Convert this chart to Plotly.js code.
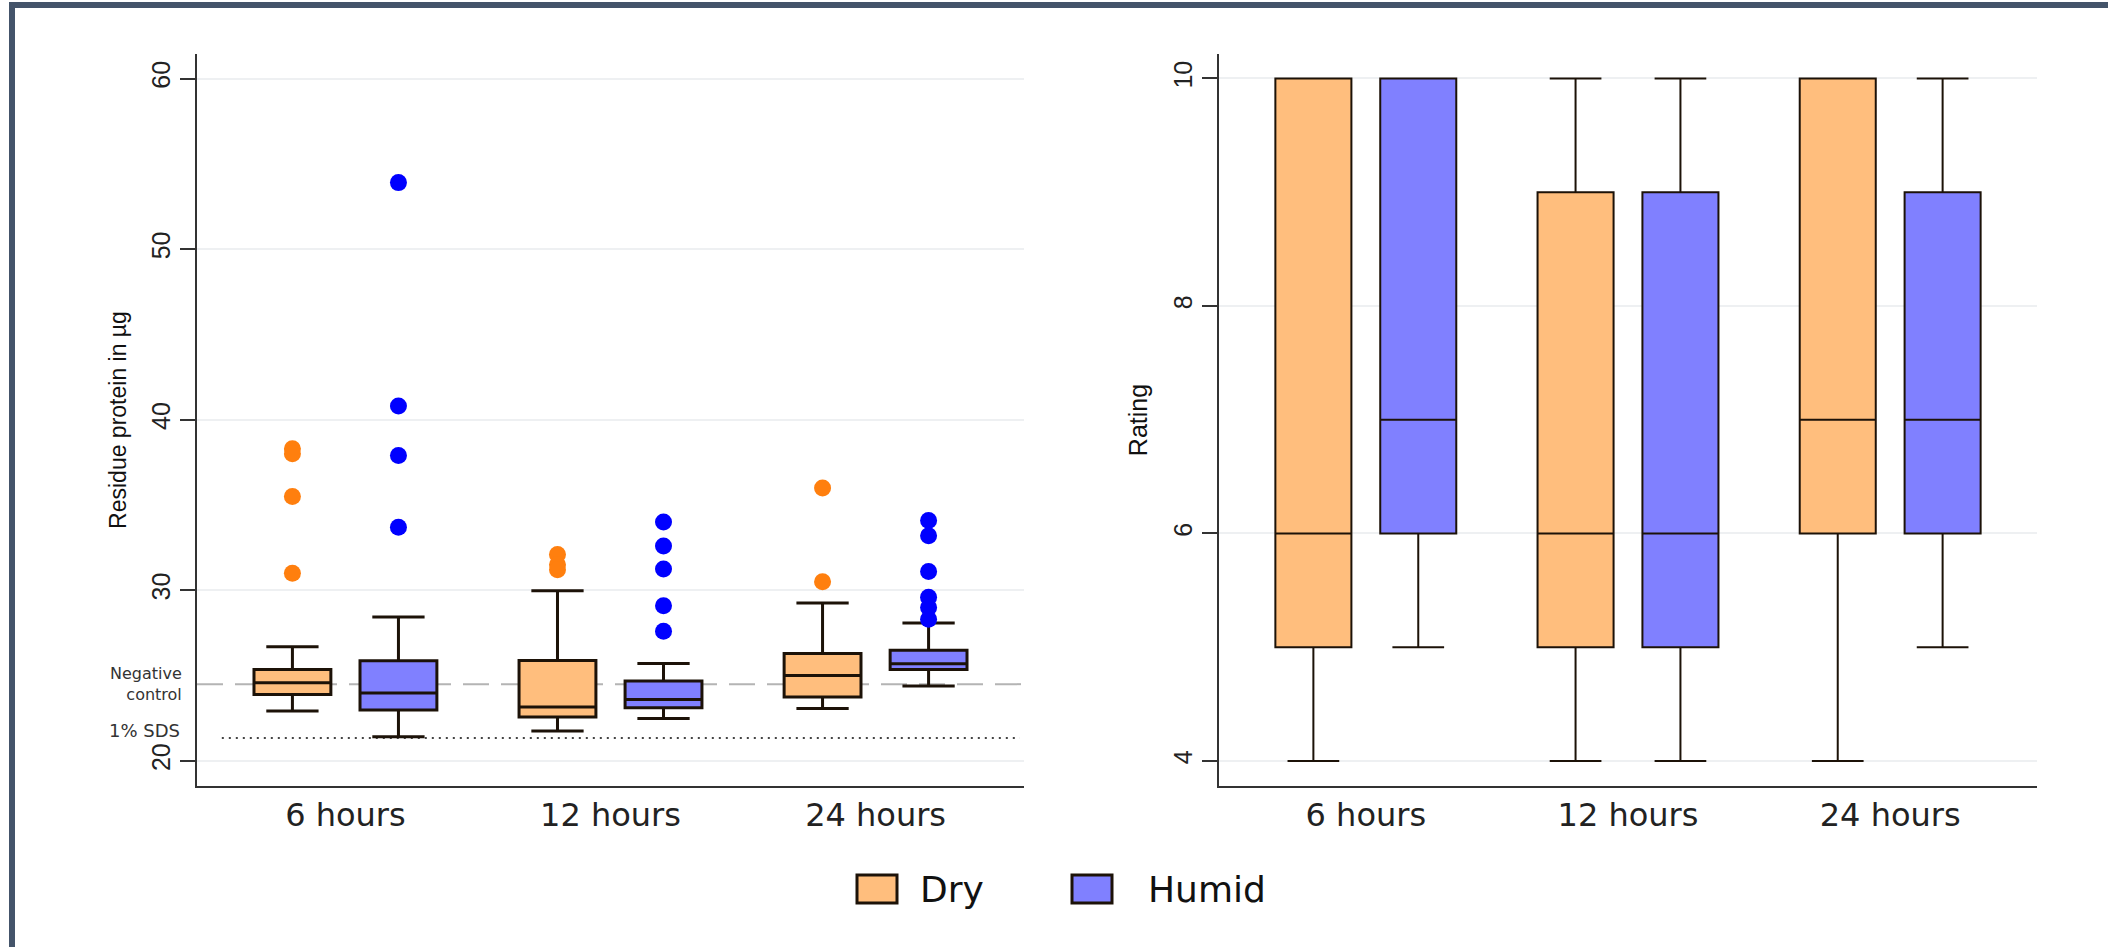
<!DOCTYPE html>
<html>
<head>
<meta charset="utf-8">
<script src="https://cdn.plot.ly/plotly-3.0.1.min.js"></script>
<style>
  html, body { margin: 0; padding: 0; background: #ffffff; }
  #chart { width: 2108px; height: 947px; }
</style>
</head>
<body>
<div id="chart"></div>
<script>
// ---------------- DATA ----------------
const categories = ['6 hours', '12 hours', '24 hours'];
const seriesNames = ['Dry', 'Humid'];

// Residue protein (µg) – box statistics per category
const dryProtLow    = [22.92, 21.75, 23.08];
const dryProtQ1     = [23.90, 22.57, 23.74];
const dryProtMedian = [24.58, 23.16, 25.01];
const dryProtQ3     = [25.36, 25.89, 26.30];
const dryProtHigh   = [26.69, 29.98, 29.26];
const dryProtOutliers = [[38.3, 38.0, 35.5, 31.0], [32.1, 31.5, 31.2], [36.0, 30.5]];

const humidProtLow    = [21.42, 22.48, 24.39];
const humidProtQ1     = [22.98, 23.12, 25.36];
const humidProtMedian = [23.98, 23.60, 25.69];
const humidProtQ3     = [25.87, 24.68, 26.49];
const humidProtHigh   = [28.44, 25.71, 28.09];
const humidProtOutliers = [[53.9, 40.8, 37.9, 33.7], [34.0, 32.6, 31.25, 29.1, 27.6], [34.1, 33.2, 31.1, 29.6, 29.0, 28.3]];

// Reference lines (µg)
const negativeControl = 24.5;
const sds1pct = 21.35;

// Rating – box statistics per category
const dryRateLow    = [4, 4, 4];
const dryRateQ1     = [5, 5, 6];
const dryRateMedian = [6, 6, 7];
const dryRateQ3     = [10, 9, 10];
const dryRateHigh   = [10, 10, 10];

const humidRateLow    = [5, 4, 5];
const humidRateQ1     = [6, 5, 6];
const humidRateMedian = [7, 6, 7];
const humidRateQ3     = [10, 9, 9];
const humidRateHigh   = [10, 10, 10];

const proteinTicks = [20, 30, 40, 50, 60];
const ratingTicks = [4, 6, 8, 10];

// ---------------- STYLE ----------------
const fillColors = ['#FFBE7D', '#8080FF'];
const dotColors = ['#FF7F0E', '#0000FF'];
const outlineColor = '#1c1208';
const offset = 0.2;
const boxW = 0.29;
const catPos = categories.map((c, i) => i + 1);
const narrow = '"Liberation Sans", Arial, sans-serif';
const wide = '"DejaVu Sans", Verdana, sans-serif';

function boxTrace(name, idx, lo, q1, med, q3, hi, xa, ya, lw) {
  const sign = idx === 0 ? -1 : 1;
  return {
    type: 'box', name: name, showlegend: false,
    x: catPos.map(p => p + sign * offset),
    lowerfence: lo, q1: q1, median: med, q3: q3, upperfence: hi,
    width: boxW, whiskerwidth: 0.68,
    fillcolor: fillColors[idx],
    line: { color: outlineColor, width: lw },
    xaxis: xa, yaxis: ya, hoverinfo: 'skip'
  };
}

function outlierTrace(name, idx, outs) {
  const sign = idx === 0 ? -1 : 1;
  const xs = [], ys = [];
  outs.forEach((arr, i) => arr.forEach(v => { xs.push(catPos[i] + sign * offset); ys.push(v); }));
  return {
    type: 'scatter', mode: 'markers', name: name, showlegend: false,
    x: xs, y: ys,
    marker: { color: dotColors[idx], size: 17, line: { width: 0 } },
    xaxis: 'x', yaxis: 'y', hoverinfo: 'skip'
  };
}

const traces = [
  boxTrace('Dry', 0, dryProtLow, dryProtQ1, dryProtMedian, dryProtQ3, dryProtHigh, 'x', 'y', 3),
  boxTrace('Humid', 1, humidProtLow, humidProtQ1, humidProtMedian, humidProtQ3, humidProtHigh, 'x', 'y', 3),
  outlierTrace('Dry', 0, dryProtOutliers),
  outlierTrace('Humid', 1, humidProtOutliers),
  boxTrace('Dry', 0, dryRateLow, dryRateQ1, dryRateMedian, dryRateQ3, dryRateHigh, 'x2', 'y2', 2),
  boxTrace('Humid', 1, humidRateLow, humidRateQ1, humidRateMedian, humidRateQ3, humidRateHigh, 'x2', 'y2', 2)
];

const W = 2108, H = 947;
const px = v => v / W;
const py = v => 1 - v / H;

const xBase = {
  range: [0.44, 3.56], tickvals: catPos, ticktext: categories,
  showline: true, linecolor: '#333333', linewidth: 2,
  ticks: '', showgrid: false, zeroline: false,
  tickfont: { family: wide, size: 32, color: '#222222' },
  fixedrange: true, automargin: false
};
const yBase = {
  showline: true, linecolor: '#333333', linewidth: 2,
  ticks: 'outside', ticklen: 15, tickwidth: 2, tickcolor: '#333333',
  tickangle: -90,
  showgrid: true, gridcolor: '#eef0f2', gridwidth: 2, zeroline: false,
  tickfont: { family: narrow, size: 25, color: '#222222' },
  fixedrange: true, automargin: false
};

const layout = {
  width: W, height: H,
  margin: { l: 0, r: 0, t: 0, b: 0 },
  paper_bgcolor: '#ffffff', plot_bgcolor: '#ffffff',
  showlegend: false,
  xaxis: Object.assign({}, xBase, { domain: [px(197), px(1024)], anchor: 'y' }),
  yaxis: Object.assign({}, yBase, {
    domain: [py(786), py(54)], anchor: 'x',
    range: [18.53, 61.44], tickvals: proteinTicks,
    title: { text: 'Residue protein in µg', font: { family: narrow, size: 23, color: '#111111' }, standoff: 14 }
  }),
  xaxis2: Object.assign({}, xBase, { domain: [px(1219), px(2037)], anchor: 'y2' }),
  yaxis2: Object.assign({}, yBase, {
    domain: [py(786), py(54)], anchor: 'x2',
    range: [3.78, 10.215], tickvals: ratingTicks,
    title: { text: 'Rating', font: { family: narrow, size: 25, color: '#111111' }, standoff: 14 }
  }),
  shapes: [
    // reference lines
    { type: 'line', xref: 'x domain', yref: 'y', x0: 0, x1: 1, y0: negativeControl, y1: negativeControl,
      line: { color: '#b4b4b4', width: 2, dash: '26px,12px' }, layer: 'below' },
    { type: 'line', xref: 'x domain', yref: 'y', x0: 0.03, x1: 0.995, y0: sds1pct, y1: sds1pct,
      line: { color: '#444444', width: 2, dash: '2px,5px' }, layer: 'below' },
    // legend swatches
    { type: 'rect', xref: 'paper', yref: 'paper', x0: px(857), x1: px(897), y0: py(903), y1: py(875),
      fillcolor: fillColors[0], line: { color: outlineColor, width: 3 } },
    { type: 'rect', xref: 'paper', yref: 'paper', x0: px(1072), x1: px(1112), y0: py(903), y1: py(875),
      fillcolor: fillColors[1], line: { color: outlineColor, width: 3 } },
    // frame
    { type: 'rect', xref: 'paper', yref: 'paper', x0: px(9), x1: 1, y0: py(8), y1: py(2),
      fillcolor: '#44546a', line: { width: 0 } },
    { type: 'rect', xref: 'paper', yref: 'paper', x0: px(9), x1: px(15), y0: 0, y1: py(2),
      fillcolor: '#44546a', line: { width: 0 } }
  ],
  annotations: [
    { xref: 'paper', yref: 'y', x: px(184), y: negativeControl, yshift: 0, text: 'Negative<br>control',
      showarrow: false, xanchor: 'right', yanchor: 'middle', align: 'right',
      font: { family: wide, size: 16, color: '#333333' } },
    { xref: 'paper', yref: 'y', x: px(182), y: sds1pct, yshift: 7, text: '1% SDS',
      showarrow: false, xanchor: 'right', yanchor: 'middle',
      font: { family: wide, size: 18, color: '#333333' } },
    { xref: 'paper', yref: 'paper', x: px(918), y: py(889), text: seriesNames[0],
      showarrow: false, xanchor: 'left', yanchor: 'middle',
      font: { family: wide, size: 36, color: '#111111' } },
    { xref: 'paper', yref: 'paper', x: px(1146), y: py(889), text: seriesNames[1],
      showarrow: false, xanchor: 'left', yanchor: 'middle',
      font: { family: wide, size: 36, color: '#111111' } }
  ]
};

Plotly.newPlot('chart', traces, layout, { displayModeBar: false, staticPlot: true });
</script>
</body>
</html>
